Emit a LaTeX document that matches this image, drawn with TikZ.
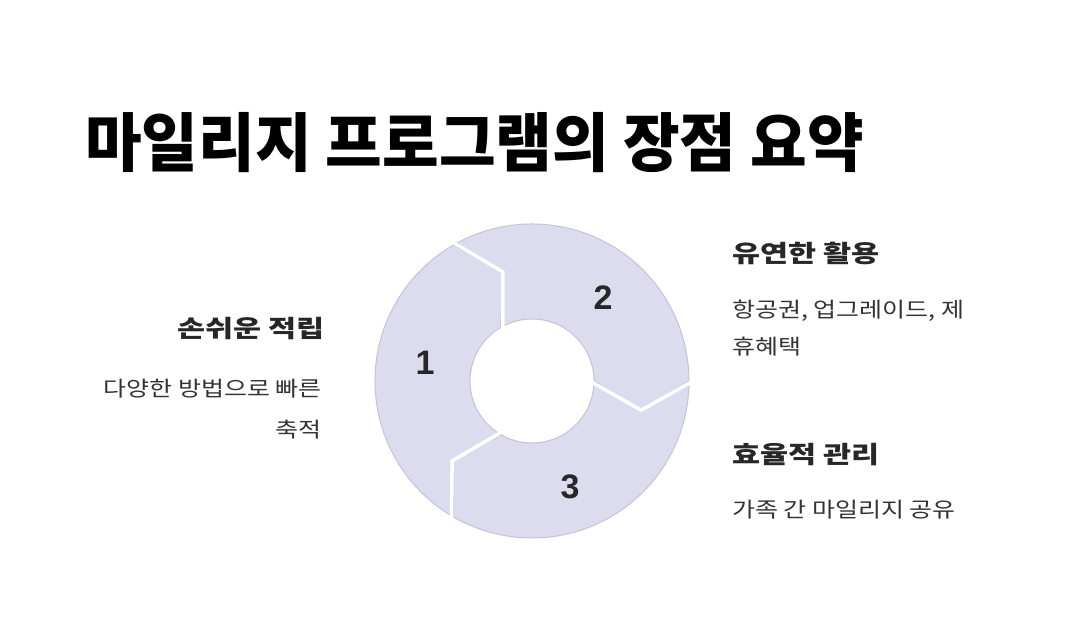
\documentclass[tikz,border=0pt]{standalone}
\usepackage{fontspec}
\setmainfont{Noto Sans CJK KR}
\newfontfamily\numfont{Liberation Sans}
\definecolor{segfill}{HTML}{DCDCEE}
\definecolor{segline}{HTML}{C4C4D8}
\definecolor{headc}{HTML}{272727}
\definecolor{bodyc}{HTML}{333333}
\newcommand{\hx}[1]{\scalebox{1.27}[1]{#1}}
\newcommand{\bx}[1]{\scalebox{1.19}[1]{#1}}
\tikzset{
  seg/.style={fill=segfill, draw=segline, line width=1pt},
  gap/.style={draw=white, line width=3.5pt, line join=miter},
  titletxt/.style={inner sep=0pt, font=\fontsize{64}{70}\selectfont\bfseries, text=black},
  headtxt/.style={inner sep=0pt, font=\fontsize{24}{30}\selectfont\bfseries, text=headc},
  bodytxt/.style={inner sep=0pt, font=\fontsize{21}{27}\selectfont, text=bodyc},
  numtxt/.style={inner sep=0pt, font=\numfont\fontsize{34}{38}\selectfont\bfseries, text=headc}
}
\begin{document}
\begin{tikzpicture}[x=1pt,y=-1pt]
\useasboundingbox[fill=white] (0,0) rectangle (1072,634);
\coordinate (c) at (532,381);
% segments
\foreach \a/\b in {240/120, 120/0, 360/240}{
  \path[seg] ([shift={(c)}]\a:157pt) arc[start angle=\a, end angle=\b, radius=157pt]
    -- ([shift={(c)}]\b-15:113pt) -- ([shift={(c)}]\b:62pt)
    arc[start angle=\b, end angle=\a, radius=62pt]
    -- ([shift={(c)}]\a-15:113pt) -- cycle;
}
\foreach \b in {120,0,240}{
  \draw[gap] ([shift={(c)}]\b:161pt) -- ([shift={(c)}]\b-15:113pt) -- ([shift={(c)}]\b:58pt);
}
\node[numtxt] (n1) at (425,363) {1};
\node[numtxt] (n2) at (603,298) {2};
\node[numtxt] (n3) at (570,487) {3};
% title
\node[titletxt, anchor=base west] (title) at (85,166) {\scalebox{0.962}[1]{마일리지 프로그램의 장점 요약}};
% left
\node[headtxt, anchor=base east] (h1) at (325,337) {\hx{손쉬운 적립}};
\node[bodytxt, anchor=base east] (b1a) at (322,396) {\bx{다양한 방법으로 빠른}};
\node[bodytxt, anchor=base east] (b1b) at (322,437) {\bx{축적}};
% right
\node[headtxt, anchor=base west] (h2) at (732,262) {\hx{유연한 활용}};
\node[bodytxt, anchor=base west] (b2a) at (732,317) {\bx{항공권, 업그레이드, 제}};
\node[bodytxt, anchor=base west] (b2b) at (732,354) {\bx{휴혜택}};
\node[headtxt, anchor=base west] (h3) at (732,463) {\hx{효율적 관리}};
\node[bodytxt, anchor=base west] (b3) at (732,517) {\bx{가족 간 마일리지 공유}};
\end{tikzpicture}
\end{document}
